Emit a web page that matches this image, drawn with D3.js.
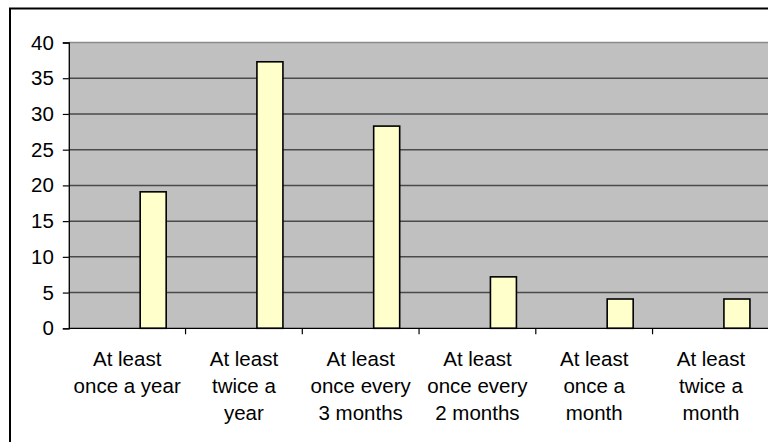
<!DOCTYPE html>
<html>
<head>
<meta charset="utf-8">
<script src="https://cdn.jsdelivr.net/npm/d3@7/dist/d3.min.js"></script>
<style>
  html, body { margin: 0; padding: 0; background: #fff; }
  svg { display: block; }
  text { font-family: "Liberation Sans", Arial, sans-serif; fill: #000; }
</style>
</head>
<body>
<svg id="chart" width="768" height="442"></svg>
<script>
// Survey: how often respondents do it (percent)
const categories = [
  "At least once a year",
  "At least twice a year",
  "At least once every 3 months",
  "At least once every 2 months",
  "At least once a month",
  "At least twice a month"
];
const values = [19.1, 37.3, 28.3, 7.2, 4.1, 4.1];
const categoryLabelLines = [
  ["At least", "once a year"],
  ["At least", "twice a", "year"],
  ["At least", "once every", "3 months"],
  ["At least", "once every", "2 months"],
  ["At least", "once a", "month"],
  ["At least", "twice a", "month"]
];
const yTicks = [0, 5, 10, 15, 20, 25, 30, 35, 40];
// the chart was built as a three-slot cluster; only the last slot holds data
const seriesSlots = ["s1", "s2", "s3"];

const svg = d3.select("#chart");

// outer chart frame (runs past the right and bottom edges)
svg.append("rect")
  .attr("x", 10).attr("y", 8.5)
  .attr("width", 790).attr("height", 460)
  .attr("fill", "#fff").attr("stroke", "#000").attr("stroke-width", 2);

const plot = { left: 68.8, top: 42.5, right: 769.3, bottom: 328.3 };

const x = d3.scaleBand()
  .domain(categories)
  .range([plot.left, plot.right])
  .padding(0);

const xInner = d3.scaleBand()
  .domain(seriesSlots)
  .range([0, x.bandwidth()])
  .paddingInner(0)
  .paddingOuter(0.745);

const y = d3.scaleLinear()
  .domain([0, 40])
  .range([plot.bottom, plot.top]);

// plot area
svg.append("rect")
  .attr("x", plot.left).attr("y", plot.top)
  .attr("width", plot.right - plot.left).attr("height", plot.bottom - plot.top)
  .attr("fill", "#c0c0c0");

// horizontal gridlines
svg.append("g")
  .selectAll("line")
  .data(yTicks.filter(t => t > 0))
  .join("line")
  .attr("x1", plot.left).attr("x2", plot.right)
  .attr("y1", d => y(d)).attr("y2", d => y(d))
  .attr("stroke", d => d === 40 ? "#8a8a8a" : "#4a4a4a")
  .attr("stroke-width", 1.5);

// bars
svg.append("g")
  .selectAll("rect")
  .data(values)
  .join("rect")
  .attr("x", (d, i) => x(categories[i]) + xInner("s3"))
  .attr("y", d => y(d))
  .attr("width", xInner.bandwidth())
  .attr("height", d => y(0) - y(d))
  .attr("fill", "#ffffcc")
  .attr("stroke", "#000")
  .attr("stroke-width", 1.6);

// y axis
const yAxis = d3.axisLeft(y).tickValues(yTicks).tickSize(6).tickPadding(9);
const gy = svg.append("g")
  .attr("transform", `translate(${plot.left},0)`)
  .call(yAxis);
gy.select(".domain").attr("stroke", "#000").attr("stroke-width", 1.3);
gy.selectAll(".tick line").attr("stroke", "#000").attr("stroke-width", 1.2);
gy.selectAll(".tick text")
  .attr("font-size", 20.5)
  .attr("font-family", "'Liberation Sans', Arial, sans-serif")
  .attr("fill", "#000");

// x axis: tick marks sit on category boundaries
const gx = svg.append("g")
  .attr("transform", `translate(0,${plot.bottom})`);
gx.append("line")
  .attr("x1", plot.left).attr("x2", plot.right)
  .attr("y1", 0).attr("y2", 0)
  .attr("stroke", "#000").attr("stroke-width", 1.3);
gx.selectAll("line.tick")
  .data(categories)
  .join("line")
  .attr("class", "tick")
  .attr("x1", d => x(d) + x.bandwidth()).attr("x2", d => x(d) + x.bandwidth())
  .attr("y1", 0).attr("y2", 6)
  .attr("stroke", "#000").attr("stroke-width", 1.2);

// category labels
const labels = svg.append("g")
  .selectAll("text")
  .data(categories)
  .join("text")
  .attr("text-anchor", "middle")
  .attr("font-size", 20.5)
  .attr("x", d => x(d) + x.bandwidth() / 2)
  .attr("y", 366);
labels.each(function(d, i) {
  d3.select(this).selectAll("tspan")
    .data(categoryLabelLines[i])
    .join("tspan")
    .attr("x", x(d) + x.bandwidth() / 2)
    .attr("dy", (t, j) => j === 0 ? 0 : 27.2)
    .text(t => t);
});
</script>
</body>
</html>
